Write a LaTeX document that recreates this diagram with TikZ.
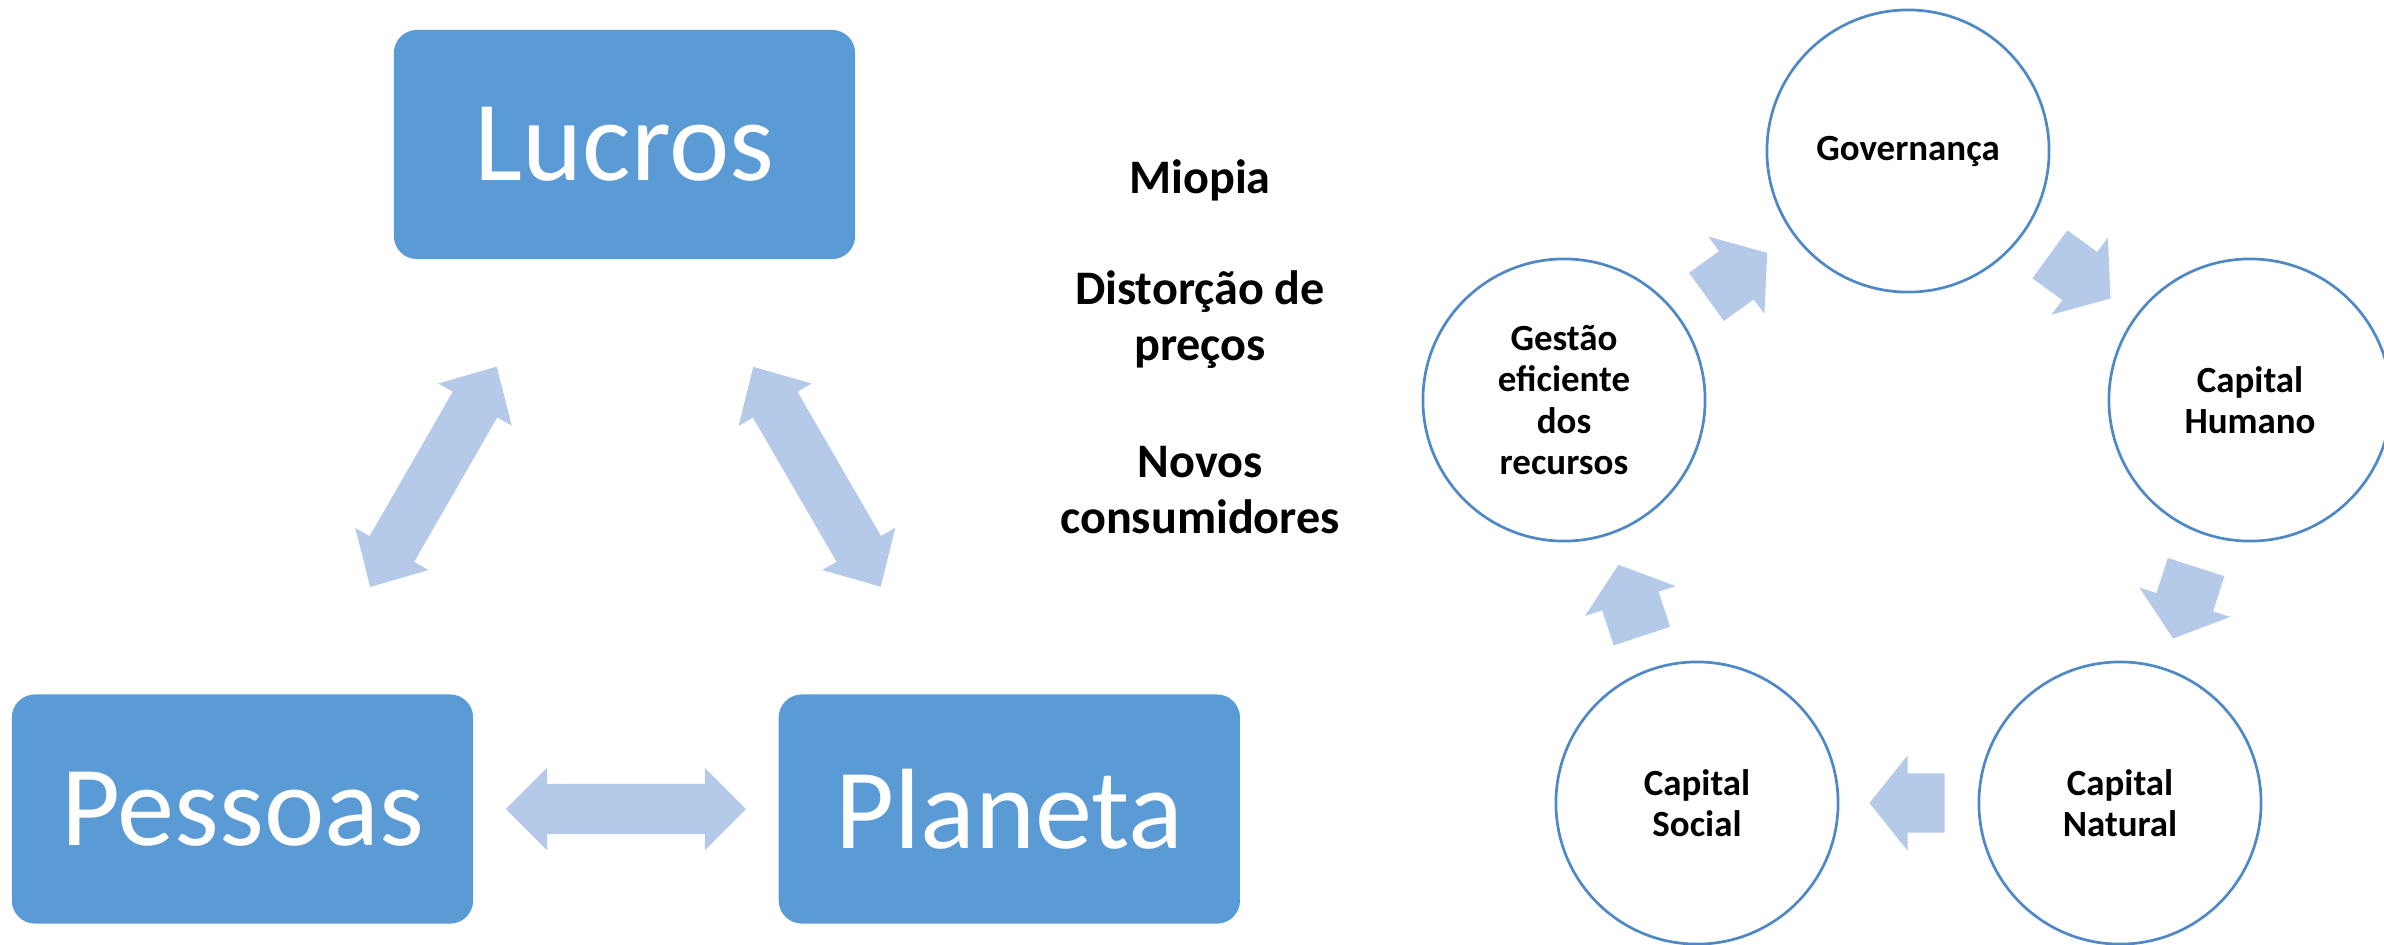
\documentclass[tikz,border=0pt]{standalone}
\usepackage{fontspec}
\setmainfont{Carlito}
\usepackage{tikz}
\usetikzlibrary{positioning}
\usetikzlibrary{shapes}
\definecolor{boxblue}{HTML}{5B9BD5}
\definecolor{ringblue}{HTML}{4F88C6}
\definecolor{arrowblue}{HTML}{B5C9E8}

\begin{document}
\begin{tikzpicture}
    [%
        x=0.01cm,%
        y=-0.01cm,%
        pillar/.style={%
            fill=boxblue,%
            rounded corners=0.23cm,%
            minimum width=4.61cm,%
            minimum height=2.29cm,%
            text=white,%
            font=\fontsize{32.5}{39}\selectfont%
        },%
        link arrow/.style={%
            double arrow,%
            fill=arrowblue,%
            inner xsep=0pt,%
            inner ysep=0.25cm,%
            minimum height=2.54cm,%
            minimum width=0.83cm,%
            double arrow head extend=0.165cm,%
            double arrow tip angle=88%
        },%
        note/.style={%
            align=center,%
            font=\fontsize{13.7}{15.8}\selectfont\bfseries%
        },%
        ring/.style={%
            draw=ringblue,%
            circle,%
            line width=0.027cm,%
            minimum size=2.82cm,%
            inner sep=0pt,%
            align=center,%
            font=\fontsize{10.5}{11.7}\selectfont\bfseries%
        },%
        flow arrow/.style={%
            single arrow,%
            fill=arrowblue,%
            inner xsep=0pt,%
            inner ysep=0.29cm,%
            minimum height=0.75cm,%
            minimum width=0.94cm,%
            single arrow head extend=0.18cm,%
            single arrow tip angle=102.8%
        }%
    ]%
    \useasboundingbox (0,0) rectangle (2384,944);
%
    % the three pillars
    \node[pillar] (lucros) at (624.5,144.5) {Lucros};
    \node[pillar] (pessoas) at (242.5,809) {Pessoas};
    \node[pillar, right=3.04cm of pessoas] (planeta) {Planeta};
    % links between the pillars
    \path (lucros) -- (pessoas) node[link arrow, midway, sloped] (lucros-pessoas) {};
    \path (lucros) -- (planeta) node[link arrow, midway, sloped] (lucros-planeta) {};
    \path (pessoas) -- (planeta) node[link arrow, midway, minimum height=2.40cm,
        minimum width=0.81cm, inner ysep=0.245cm, double arrow head extend=0.16cm,
        double arrow tip angle=90] (pessoas-planeta) {};
%
    % notes in the middle
    \node[note, anchor=base] (miopia) at (1200,193) {Miopia};
    \node[note, anchor=base] (distorcao) at (1200,360) {Distorção de\\preços};
    \node[note, anchor=base] (novos) at (1200,533) {Novos\\consumidores};
%
    % the cycle of capitals
    % \ringname node name
    % \x/\y ring centre
    \foreach \ringname/\x/\y/\ringtext in {%
        gov/1908/151/Governança,%
        hum/2250/400/{Capital\\Humano},%
        nat/2120/803/{Capital\\Natural},%
        soc/1697/803/{Capital\\Social},%
        ges/1564/400/{Gestão\\eficiente\\dos\\recursos}%
    }{
        \node[ring] (\ringname) at (\x,\y) {\ringtext};
    } % \foreach \ringname
    % arrows round the cycle, tail a quarter of the way along the gap
    \foreach \from/\to in {gov/hum,hum/nat,nat/soc,soc/ges,ges/gov}{
        \path (\from) -- (\to) node[flow arrow, pos=0.234, anchor=tail, sloped, allow upside down] (\from-\to) {};
    } % \foreach \from/\to
\end{tikzpicture}
\end{document}
